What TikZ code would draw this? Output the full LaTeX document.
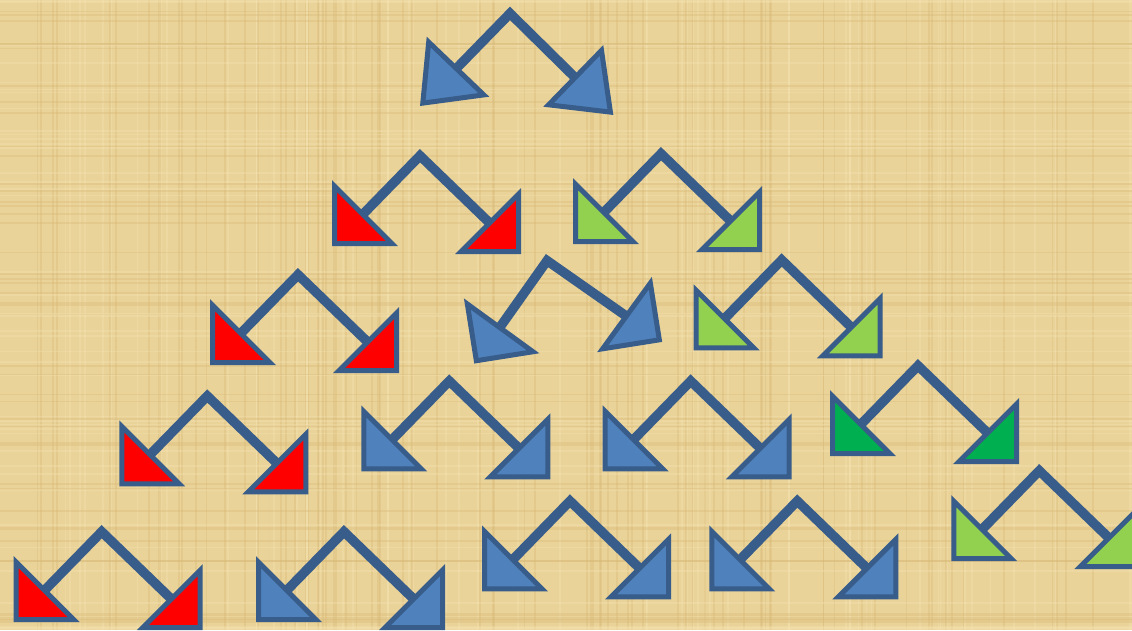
\documentclass[tikz,border=0pt]{standalone}
\definecolor{bg}{RGB}{234,211,153}
\definecolor{bgdark}{RGB}{214,184,118}
\definecolor{bglight}{RGB}{246,228,178}
\definecolor{edge}{RGB}{56,93,138}
\definecolor{ablue}{RGB}{79,129,189}
\definecolor{ared}{RGB}{255,0,0}
\definecolor{lgreen}{RGB}{146,208,80}
\definecolor{dgreen}{RGB}{0,176,80}
\tikzset{
  shaft/.style={draw=edge, line width=9.5pt, line join=miter, line cap=butt},
  head/.style={draw=edge, line width=5pt, line join=miter, miter limit=10},
  streak/.style={line width=#1, opacity=0.35},
}
\newcommand\dblarrow[4]{%
  \begin{scope}[shift={(#1,#2)}, rotate=#3]
    \draw[shaft] (-66.3,74.7) -- (0,6.7) -- (79.3,83.3);
    \filldraw[head, fill=#4] (-85.5,37.1) -- (-85.5,94.5) -- (-28.1,94.5) -- cycle;
    \filldraw[head, fill=#4] (98.5,45.1) -- (98.5,102.5) -- (41.1,102.5) -- cycle;
  \end{scope}}
\begin{document}
\begin{tikzpicture}[x=1pt, y=-1pt]
  \useasboundingbox (0,0) rectangle (1132,630);
  \clip (0,0) rectangle (1132,630);
  % papyrus background
  \fill[bg] (0,0) rectangle (1132,630);
  \pgfmathsetseed{11}
  \foreach \i in {1,...,140}{
    \pgfmathsetmacro\xx{random(0,1132)}
    \pgfmathsetmacro\ww{0.5+2.5*rnd}
    \pgfmathsetmacro\cc{random(0,1)}
    \ifnum\cc=0
      \draw[streak=\ww pt, bgdark] (\xx,0) -- (\xx,630);
    \else
      \draw[streak=\ww pt, bglight] (\xx,0) -- (\xx,630);
    \fi
  }
  \foreach \i in {1,...,90}{
    \pgfmathsetmacro\yy{random(0,630)}
    \pgfmathsetmacro\ww{0.5+2.5*rnd}
    \pgfmathsetmacro\cc{random(0,1)}
    \ifnum\cc=0
      \draw[streak=\ww pt, bgdark] (0,\yy) -- (1132,\yy);
    \else
      \draw[streak=\ww pt, bglight] (0,\yy) -- (1132,\yy);
    \fi
  }
  % top arrow (wider heads)
  \draw[shaft] (445.1,80.0) -- (510,13.4) -- (586.8,89.1);
  \filldraw[head, fill=ablue] (428.7,42.1) -- (422.8,103.1) -- (483.8,94.9) -- cycle;
  \filldraw[head, fill=ablue] (601.5,50.4) -- (610.4,112.1) -- (548.6,104.8) -- cycle;
  % row 2
  \dblarrow{420}{149}{0}{ared}
  \dblarrow{661}{147}{0}{lgreen}
  % row 3
  \dblarrow{298}{268}{0}{ared}
  \dblarrow{546}{254}{9}{ablue}
  \dblarrow{781.7}{253.3}{0}{lgreen}
  % row 4
  \dblarrow{207.3}{389.3}{0}{ared}
  \dblarrow{449.3}{374.3}{0}{ablue}
  \dblarrow{690.7}{374.3}{0}{ablue}
  \dblarrow{918}{359}{0}{dgreen}
  % row 5
  \dblarrow{101.7}{525}{0}{ared}
  \dblarrow{344}{525}{0}{ablue}
  \dblarrow{570}{494.3}{0}{ablue}
  \dblarrow{797.3}{494.3}{0}{ablue}
  \dblarrow{1039.3}{464}{0}{lgreen}
\end{tikzpicture}
\end{document}
